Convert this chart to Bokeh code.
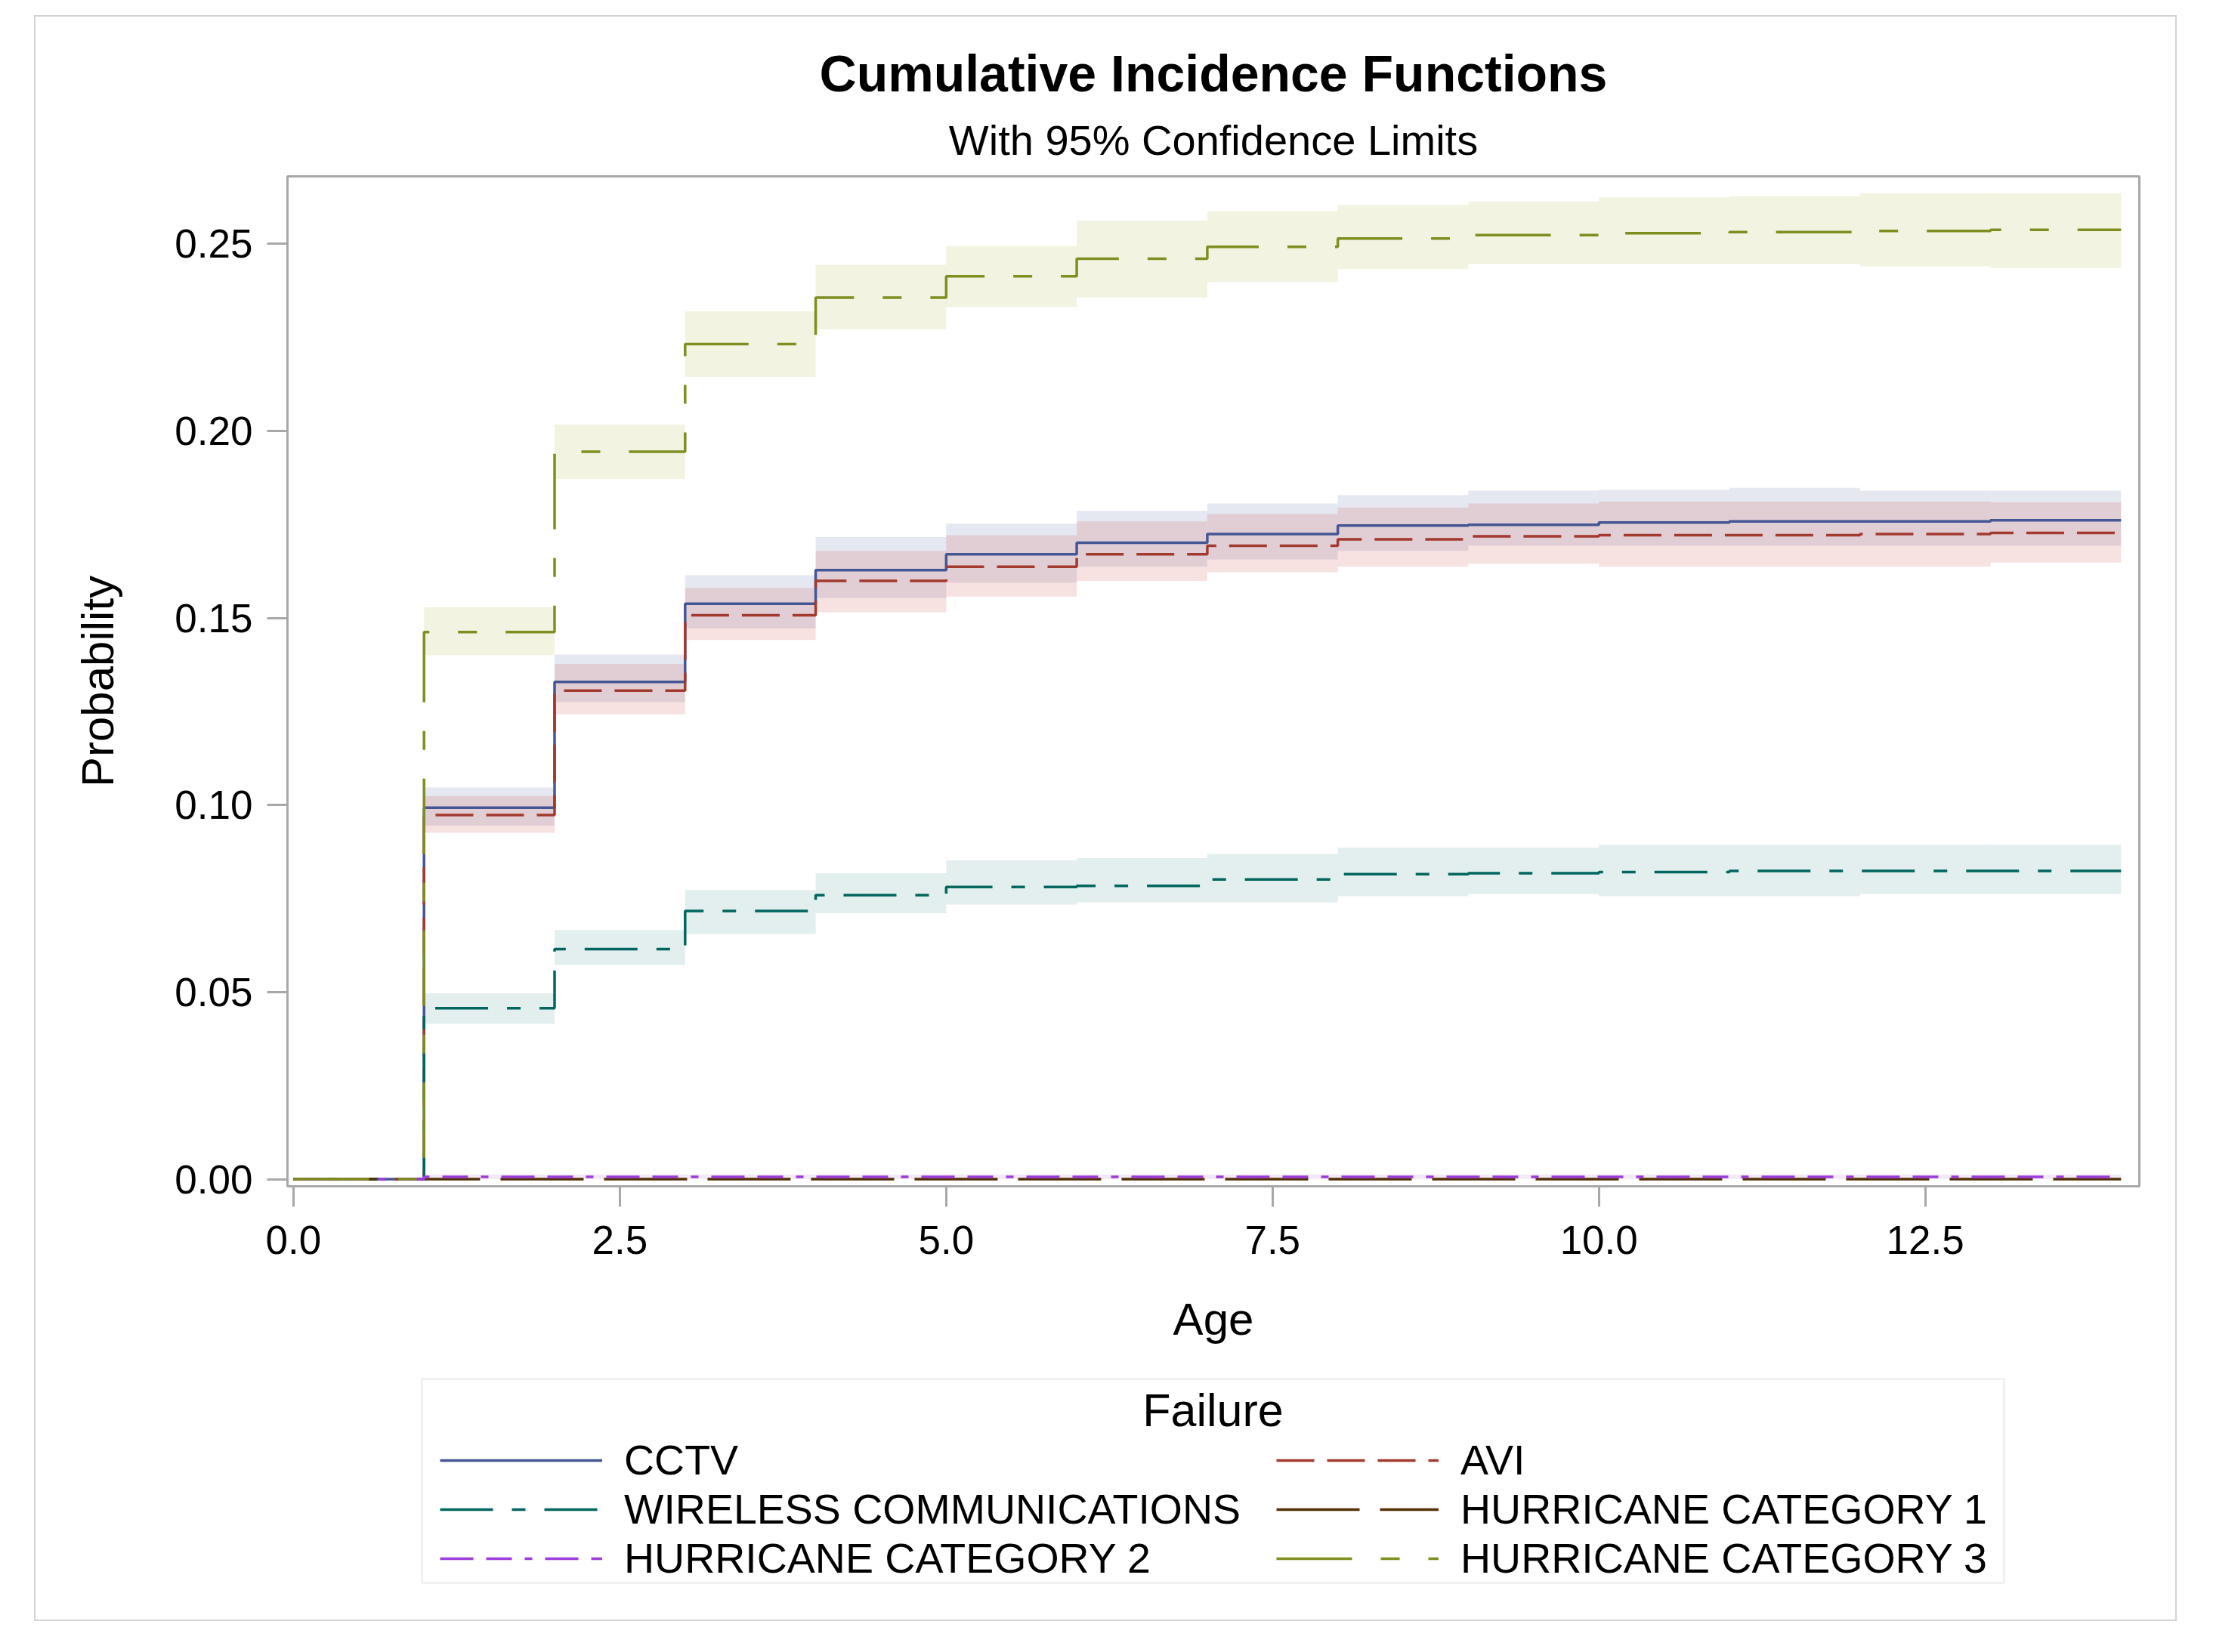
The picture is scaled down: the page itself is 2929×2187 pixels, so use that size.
from bokeh.plotting import figure
from bokeh.layouts import column
from bokeh.models import (Range1d, FixedTicker, PrintfTickFormatter, Legend, LegendItem, Title, Label,
                          BoxAnnotation)
from bokeh.embed import file_html
from bokeh.resources import INLINE

FONT = "Liberation Sans"

# ---- data ----
ages = [0, 1, 2, 3, 4, 5, 6, 7, 8, 9, 10, 11, 12, 13, 14]
x_ticks = [0.0, 2.5, 5.0, 7.5, 10.0, 12.5]
y_ticks = [0.00, 0.05, 0.10, 0.15, 0.20, 0.25]

cctv = [0, 0.0993, 0.1329, 0.1538, 0.1628, 0.1670, 0.1701, 0.1724, 0.1747, 0.1749, 0.1755, 0.1758, 0.1758, 0.1761, 0.1761]
avi = [0, 0.0973, 0.1306, 0.1507, 0.1599, 0.1637, 0.1670, 0.1693, 0.1710, 0.1718, 0.1721, 0.1721, 0.1724, 0.1727, 0.1727]
wireless = [0, 0.0457, 0.0615, 0.0717, 0.0759, 0.0781, 0.0784, 0.0801, 0.0815, 0.0818, 0.0821, 0.0824, 0.0824, 0.0824, 0.0824]
hurr1 = [0, 0.0000, 0.0000, 0.0000, 0.0000, 0.0000, 0.0000, 0.0000, 0.0000, 0.0000, 0.0000, 0.0000, 0.0000, 0.0000, 0.0000]
hurr2 = [0, 0.0006, 0.0006, 0.0006, 0.0006, 0.0006, 0.0006, 0.0006, 0.0006, 0.0006, 0.0006, 0.0006, 0.0006, 0.0006, 0.0006]
hurr3 = [0, 0.1462, 0.1944, 0.2232, 0.2356, 0.2413, 0.2460, 0.2492, 0.2514, 0.2523, 0.2528, 0.2531, 0.2534, 0.2537, 0.2537]

# confidence limits for the intervals [1,2), [2,3), ..., [13,14]
cctv_up = [0.1047, 0.1402, 0.1614, 0.1716, 0.1752, 0.1786, 0.1806, 0.1828, 0.1840, 0.1842, 0.1848, 0.1840, 0.1840]
cctv_lo = [0.0945, 0.1275, 0.1472, 0.1553, 0.1594, 0.1637, 0.1656, 0.1679, 0.1693, 0.1693, 0.1693, 0.1693, 0.1693]
avi_up = [0.1024, 0.1377, 0.1580, 0.1679, 0.1721, 0.1758, 0.1778, 0.1795, 0.1806, 0.1811, 0.1811, 0.1811, 0.1809]
avi_lo = [0.0926, 0.1242, 0.1441, 0.1515, 0.1557, 0.1599, 0.1622, 0.1637, 0.1645, 0.1637, 0.1637, 0.1637, 0.1648]
wireless_up = [0.0497, 0.0666, 0.0773, 0.0818, 0.0852, 0.0858, 0.0869, 0.0886, 0.0886, 0.0894, 0.0894, 0.0894, 0.0894]
wireless_lo = [0.0415, 0.0573, 0.0655, 0.0711, 0.0734, 0.0740, 0.0740, 0.0756, 0.0762, 0.0756, 0.0756, 0.0762, 0.0762]
hurr2_up = [0.0013] * 13
hurr2_lo = [0.0000] * 13
hurr3_up = [0.1529, 0.2017, 0.2319, 0.2444, 0.2494, 0.2562, 0.2587, 0.2604, 0.2613, 0.2624, 0.2627, 0.2635, 0.2635]
hurr3_lo = [0.1400, 0.1871, 0.2144, 0.2271, 0.2331, 0.2356, 0.2398, 0.2432, 0.2446, 0.2446, 0.2446, 0.2440, 0.2435]

names = ["CCTV", "AVI", "WIRELESS COMMUNICATIONS", "HURRICANE CATEGORY 1",
         "HURRICANE CATEGORY 2", "HURRICANE CATEGORY 3"]
legend_title = "Failure"

colors = ["#445694", "#A23A2E", "#01665E", "#543005", "#9D3CDB", "#7F8E1F"]
dashes = ["solid", "50 17", "70 25 18 25", "110 27", "44 17 34 17 10 17", "100 38 25 38"]
all_series = [cctv, avi, wireless, hurr1, hurr2, hurr3]

W = 2832
H1, H2 = 1790, 332
BL, BR = 333, 48          # left / right borders shared by both panels

# ---- main chart ----
p = figure(width=W, height=H1, output_backend="svg", toolbar_location=None,
           x_range=Range1d(-0.046, 14.14), y_range=Range1d(-0.0019, 0.268),
           min_border_left=BL, min_border_right=BR, min_border_top=211, min_border_bottom=242,
           title="Cumulative Incidence Functions")
p.background_fill_color = "white"
p.border_fill_color = "white"
p.outline_line_color = "#a8a8a8"
p.outline_line_width = 3
p.xgrid.visible = False
p.ygrid.visible = False

p.title.text_font = FONT
p.title.text_font_size = "68px"
p.title.text_font_style = "bold"
p.title.text_color = "black"
p.title.align = "center"
p.title.standoff = 0
p.add_layout(Title(text="With 95% Confidence Limits", text_font=FONT, text_font_size="56px",
                   text_font_style="normal", text_color="black", align="center", standoff=34), "above")

for ax in (p.xaxis[0], p.yaxis[0]):
    ax.axis_line_color = "#a8a8a8"
    ax.axis_line_width = 3
    ax.major_tick_line_color = "#a8a8a8"
    ax.major_tick_line_width = 3
    ax.major_tick_out = 27
    ax.major_tick_in = 0
    ax.minor_tick_line_color = None
    ax.major_label_text_font = FONT
    ax.major_label_text_font_size = "53px"
    ax.major_label_text_color = "black"
    ax.axis_label_text_font = FONT
    ax.axis_label_text_font_size = "60px"
    ax.axis_label_text_font_style = "normal"
    ax.axis_label_text_color = "black"

p.xaxis.ticker = FixedTicker(ticks=x_ticks)
p.xaxis.formatter = PrintfTickFormatter(format="%.1f")
p.xaxis.axis_label = "Age"
p.xaxis.major_label_standoff = 25
p.xaxis.axis_label_standoff = 50
p.yaxis.ticker = FixedTicker(ticks=y_ticks)
p.yaxis.formatter = PrintfTickFormatter(format="%.2f")
p.yaxis.axis_label = "Probability"
p.yaxis.major_label_standoff = 19
p.yaxis.axis_label_standoff = 65

band_left = ages[1:-1]
band_right = ages[2:]
bands = [(cctv_lo, cctv_up, "#6F7EB3"), (avi_lo, avi_up, "#D05B5B"),
         (wireless_lo, wireless_up, "#66A5A0"), (hurr2_lo, hurr2_up, "#B689CD"),
         (hurr3_lo, hurr3_up, "#BABC5C")]
for lo, up, c in bands:
    p.quad(left=band_left, right=band_right, bottom=lo, top=up,
           fill_color=c, fill_alpha=0.18, line_color=None)

for ys, c, dash in zip(all_series, colors, dashes):
    p.step(ages, ys, mode="after", line_color=c, line_width=3.5, line_dash=dash)

# ---- legend panel: same frame width as the chart, one data unit = one pixel ----
FW = W - BL - BR
X0 = 1000
YB = 49                   # bottom edge of the legend box inside this panel
q = figure(width=W, height=H2, output_backend="svg", toolbar_location=None,
           x_range=Range1d(X0, X0 + FW), y_range=Range1d(0, H2),
           x_axis_location=None, y_axis_location=None,
           min_border_left=BL, min_border_right=BR, min_border_top=0, min_border_bottom=0)
q.background_fill_color = "white"
q.border_fill_color = "white"
q.outline_line_color = None
q.grid.visible = False

q.add_layout(BoxAnnotation(left=X0 + 178, right=X0 + 2272, bottom=YB, top=YB + 270,
                           fill_color="white", fill_alpha=1.0,
                           line_color="#d0d0d0", line_width=3))

# same step series, lying outside this panel's view, used as legend samples
key_renderers = [q.step(ages, ys, mode="after", line_color=c, line_width=3.5, line_dash=dash)
                 for ys, c, dash in zip(all_series, colors, dashes)]

common = dict(label_text_font=FONT, label_text_font_size="55.5px", label_text_color="black",
              glyph_width=215, glyph_height=20, label_standoff=29, spacing=1, padding=0, margin=0,
              border_line_color=None, background_fill_alpha=0.0, orientation="vertical")
leg_a = Legend(items=[LegendItem(label=names[i], renderers=[key_renderers[i]]) for i in (0, 2, 4)],
               location=(202, YB), **common)
leg_b = Legend(items=[LegendItem(label=names[i], renderers=[key_renderers[i]]) for i in (1, 3, 5)],
               location=(1309, YB), **common)
q.add_layout(leg_a, "center")
q.add_layout(leg_b, "center")
q.add_layout(Label(x=X0 + 1225, y=YB + 229, text=legend_title, text_font=FONT, text_font_size="61px",
                   text_align="center", text_baseline="alphabetic", text_color="black"))

layout = column(p, q, spacing=0, margin=(20, 0, 0, 45),
                styles={"border": "2px solid #d3d3d3", "background-color": "white"})

open("out.html", "w").write(file_html(layout, INLINE))
